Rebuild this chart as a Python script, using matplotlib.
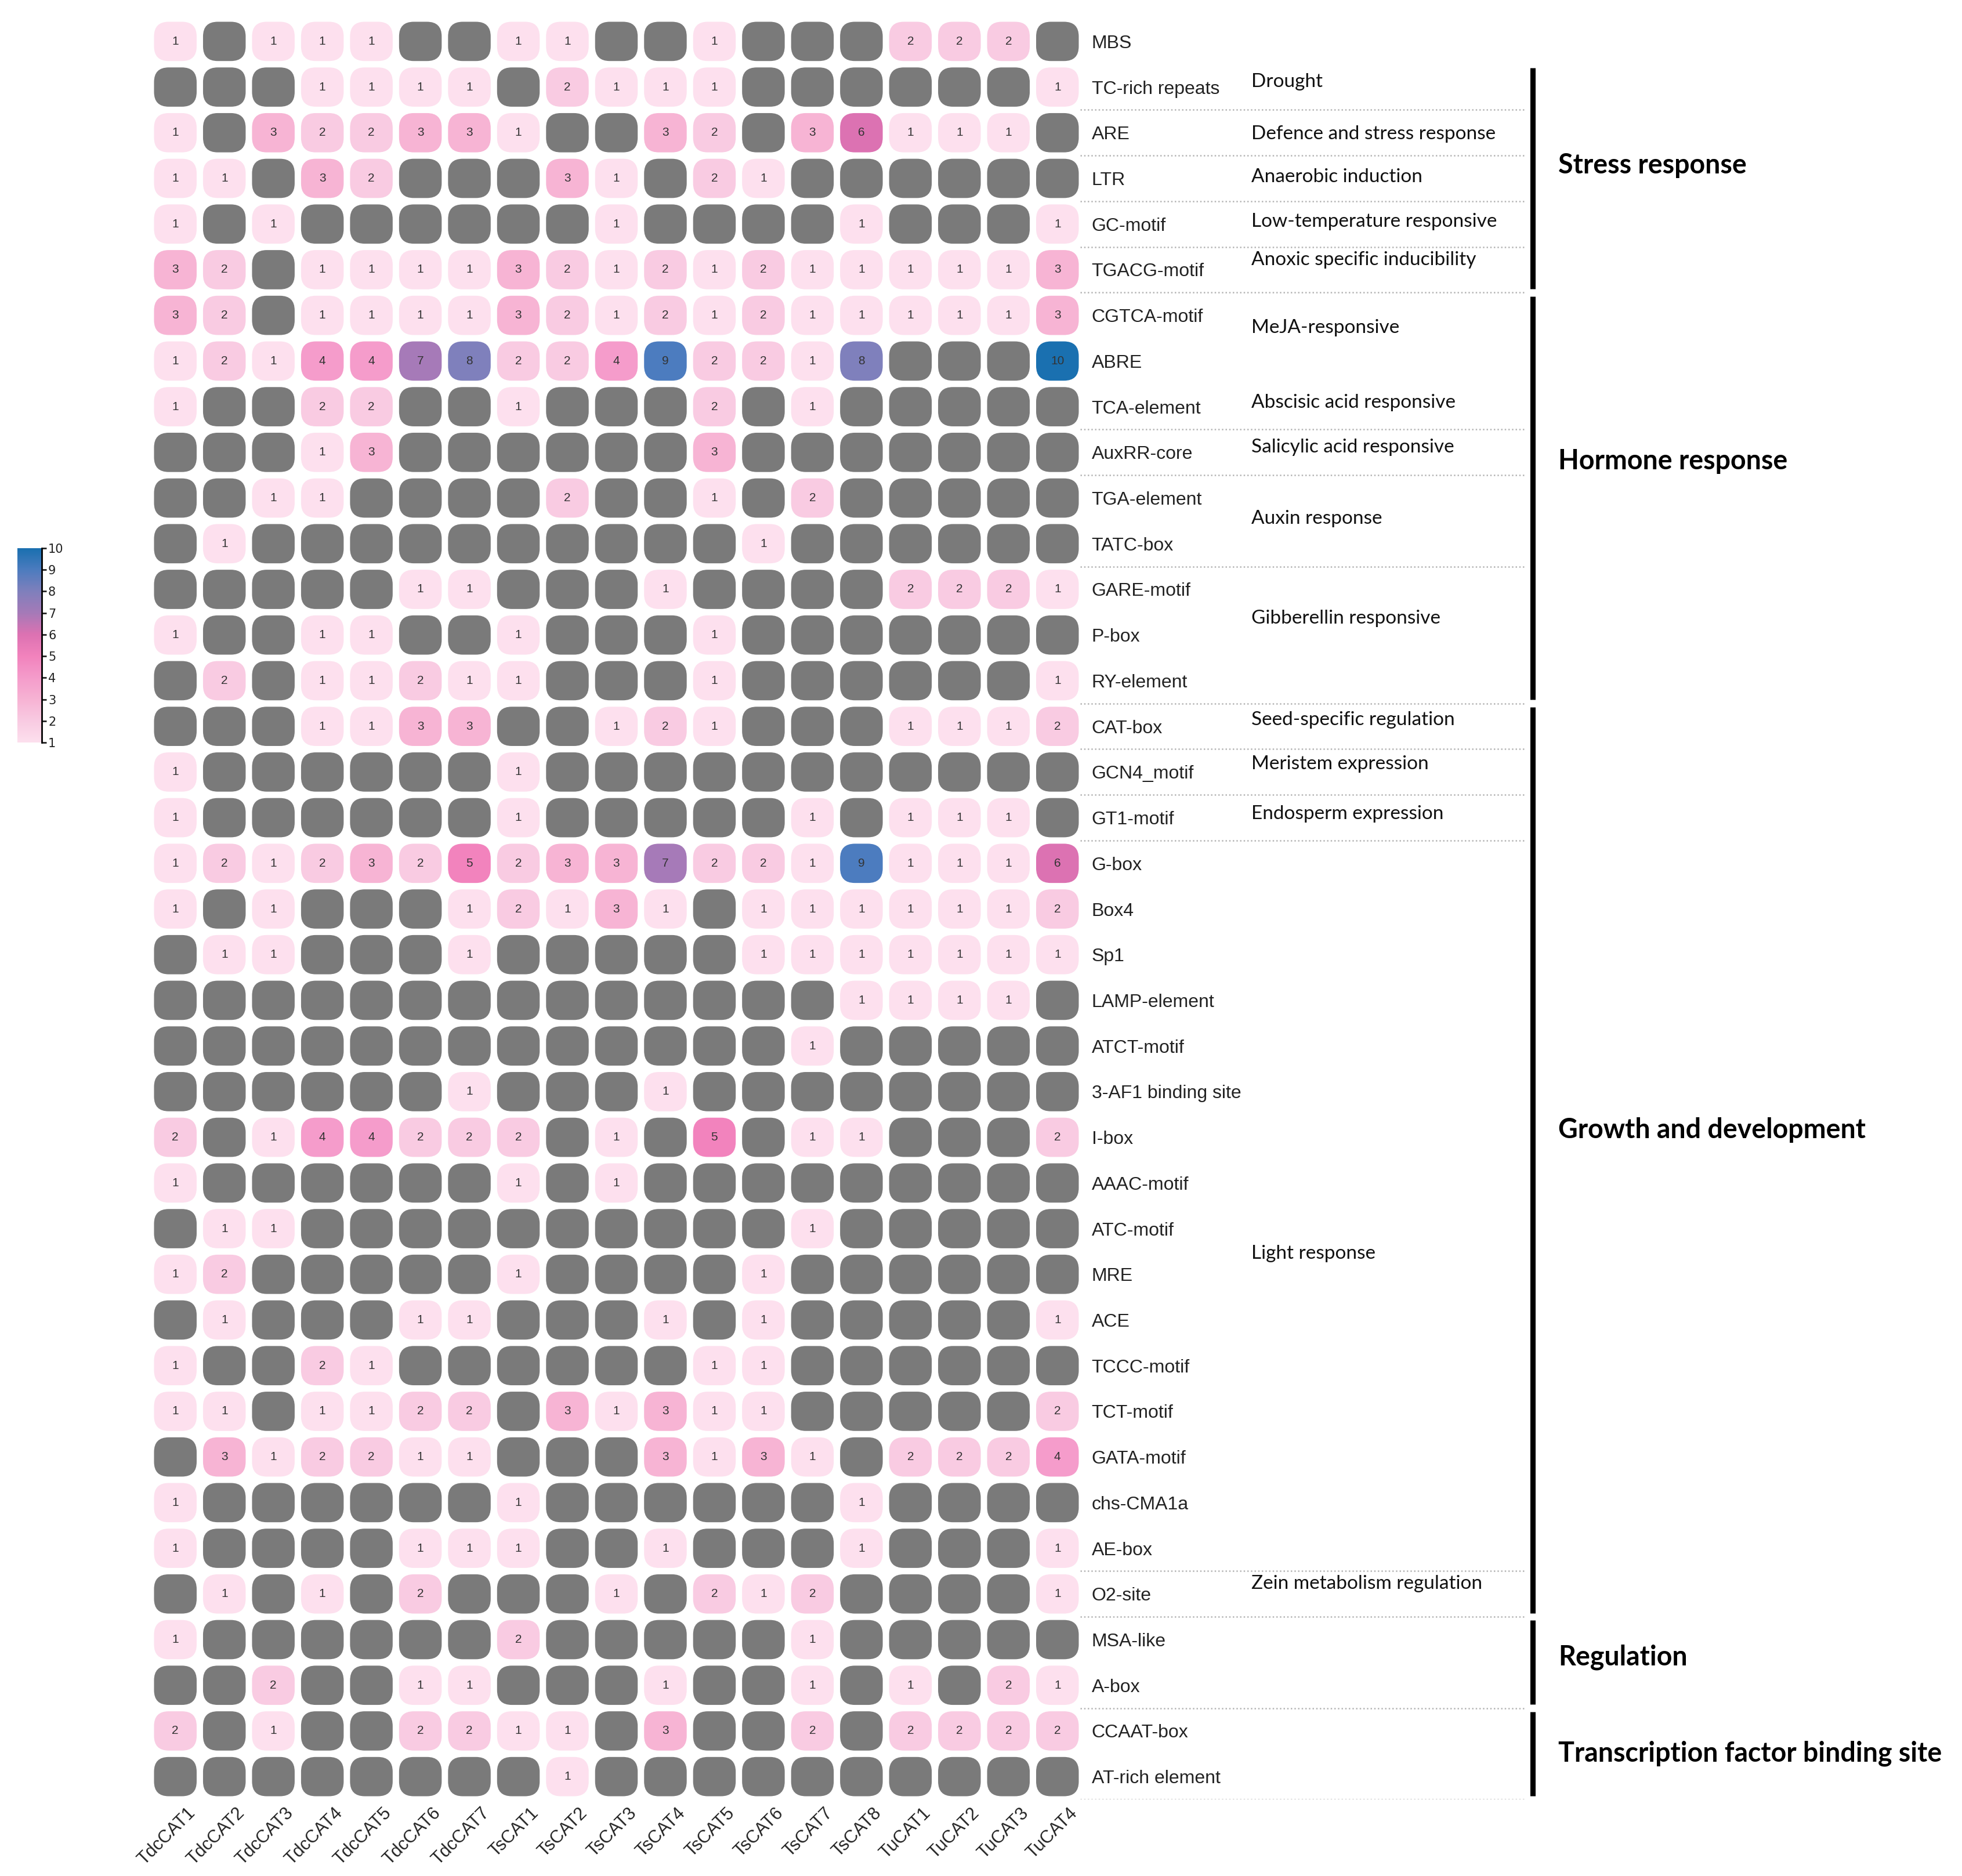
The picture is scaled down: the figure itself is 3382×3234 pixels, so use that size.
import numpy as np
import matplotlib.pyplot as plt
from matplotlib.patches import FancyBboxPatch
from matplotlib.colors import LinearSegmentedColormap, Normalize
from matplotlib.transforms import ScaledTranslation

# genes (columns) and cis-elements (rows)
genes = ['TdcCAT1', 'TdcCAT2', 'TdcCAT3', 'TdcCAT4', 'TdcCAT5', 'TdcCAT6', 'TdcCAT7',
         'TsCAT1', 'TsCAT2', 'TsCAT3', 'TsCAT4', 'TsCAT5', 'TsCAT6', 'TsCAT7', 'TsCAT8',
         'TuCAT1', 'TuCAT2', 'TuCAT3', 'TuCAT4']

elements = ['MBS', 'TC-rich repeats', 'ARE', 'LTR', 'GC-motif', 'TGACG-motif',
            'CGTCA-motif', 'ABRE', 'TCA-element', 'AuxRR-core', 'TGA-element', 'TATC-box',
            'GARE-motif', 'P-box', 'RY-element', 'CAT-box', 'GCN4_motif', 'GT1-motif',
            'G-box', 'Box4', 'Sp1', 'LAMP-element', 'ATCT-motif', '3-AF1 binding site',
            'I-box', 'AAAC-motif', 'ATC-motif', 'MRE', 'ACE', 'TCCC-motif', 'TCT-motif',
            'GATA-motif', 'chs-CMA1a', 'AE-box', 'O2-site', 'MSA-like', 'A-box',
            'CCAAT-box', 'AT-rich element']

# counts, 0 = element not present (grey)
counts = [
    [1, 0, 1, 1, 1, 0, 0, 1, 1, 0, 0, 1, 0, 0, 0, 2, 2, 2, 0],
    [0, 0, 0, 1, 1, 1, 1, 0, 2, 1, 1, 1, 0, 0, 0, 0, 0, 0, 1],
    [1, 0, 3, 2, 2, 3, 3, 1, 0, 0, 3, 2, 0, 3, 6, 1, 1, 1, 0],
    [1, 1, 0, 3, 2, 0, 0, 0, 3, 1, 0, 2, 1, 0, 0, 0, 0, 0, 0],
    [1, 0, 1, 0, 0, 0, 0, 0, 0, 1, 0, 0, 0, 0, 1, 0, 0, 0, 1],
    [3, 2, 0, 1, 1, 1, 1, 3, 2, 1, 2, 1, 2, 1, 1, 1, 1, 1, 3],
    [3, 2, 0, 1, 1, 1, 1, 3, 2, 1, 2, 1, 2, 1, 1, 1, 1, 1, 3],
    [1, 2, 1, 4, 4, 7, 8, 2, 2, 4, 9, 2, 2, 1, 8, 0, 0, 0, 10],
    [1, 0, 0, 2, 2, 0, 0, 1, 0, 0, 0, 2, 0, 1, 0, 0, 0, 0, 0],
    [0, 0, 0, 1, 3, 0, 0, 0, 0, 0, 0, 3, 0, 0, 0, 0, 0, 0, 0],
    [0, 0, 1, 1, 0, 0, 0, 0, 2, 0, 0, 1, 0, 2, 0, 0, 0, 0, 0],
    [0, 1, 0, 0, 0, 0, 0, 0, 0, 0, 0, 0, 1, 0, 0, 0, 0, 0, 0],
    [0, 0, 0, 0, 0, 1, 1, 0, 0, 0, 1, 0, 0, 0, 0, 2, 2, 2, 1],
    [1, 0, 0, 1, 1, 0, 0, 1, 0, 0, 0, 1, 0, 0, 0, 0, 0, 0, 0],
    [0, 2, 0, 1, 1, 2, 1, 1, 0, 0, 0, 1, 0, 0, 0, 0, 0, 0, 1],
    [0, 0, 0, 1, 1, 3, 3, 0, 0, 1, 2, 1, 0, 0, 0, 1, 1, 1, 2],
    [1, 0, 0, 0, 0, 0, 0, 1, 0, 0, 0, 0, 0, 0, 0, 0, 0, 0, 0],
    [1, 0, 0, 0, 0, 0, 0, 1, 0, 0, 0, 0, 0, 1, 0, 1, 1, 1, 0],
    [1, 2, 1, 2, 3, 2, 5, 2, 3, 3, 7, 2, 2, 1, 9, 1, 1, 1, 6],
    [1, 0, 1, 0, 0, 0, 1, 2, 1, 3, 1, 0, 1, 1, 1, 1, 1, 1, 2],
    [0, 1, 1, 0, 0, 0, 1, 0, 0, 0, 0, 0, 1, 1, 1, 1, 1, 1, 1],
    [0, 0, 0, 0, 0, 0, 0, 0, 0, 0, 0, 0, 0, 0, 1, 1, 1, 1, 0],
    [0, 0, 0, 0, 0, 0, 0, 0, 0, 0, 0, 0, 0, 1, 0, 0, 0, 0, 0],
    [0, 0, 0, 0, 0, 0, 1, 0, 0, 0, 1, 0, 0, 0, 0, 0, 0, 0, 0],
    [2, 0, 1, 4, 4, 2, 2, 2, 0, 1, 0, 5, 0, 1, 1, 0, 0, 0, 2],
    [1, 0, 0, 0, 0, 0, 0, 1, 0, 1, 0, 0, 0, 0, 0, 0, 0, 0, 0],
    [0, 1, 1, 0, 0, 0, 0, 0, 0, 0, 0, 0, 0, 1, 0, 0, 0, 0, 0],
    [1, 2, 0, 0, 0, 0, 0, 1, 0, 0, 0, 0, 1, 0, 0, 0, 0, 0, 0],
    [0, 1, 0, 0, 0, 1, 1, 0, 0, 0, 1, 0, 1, 0, 0, 0, 0, 0, 1],
    [1, 0, 0, 2, 1, 0, 0, 0, 0, 0, 0, 1, 1, 0, 0, 0, 0, 0, 0],
    [1, 1, 0, 1, 1, 2, 2, 0, 3, 1, 3, 1, 1, 0, 0, 0, 0, 0, 2],
    [0, 3, 1, 2, 2, 1, 1, 0, 0, 0, 3, 1, 3, 1, 0, 2, 2, 2, 4],
    [1, 0, 0, 0, 0, 0, 0, 1, 0, 0, 0, 0, 0, 0, 1, 0, 0, 0, 0],
    [1, 0, 0, 0, 0, 1, 1, 1, 0, 0, 1, 0, 0, 0, 1, 0, 0, 0, 1],
    [0, 1, 0, 1, 0, 2, 0, 0, 0, 1, 0, 2, 1, 2, 0, 0, 0, 0, 1],
    [1, 0, 0, 0, 0, 0, 0, 2, 0, 0, 0, 0, 0, 1, 0, 0, 0, 0, 0],
    [0, 0, 2, 0, 0, 1, 1, 0, 0, 0, 1, 0, 0, 1, 0, 1, 0, 2, 1],
    [2, 0, 1, 0, 0, 2, 2, 1, 1, 0, 3, 0, 0, 2, 0, 2, 2, 2, 2],
    [0, 0, 0, 0, 0, 0, 0, 0, 1, 0, 0, 0, 0, 0, 0, 0, 0, 0, 0],
]

# functional annotation: label, row where the label sits
functions = ['Drought', 'Defence and stress response', 'Anaerobic induction',
             'Low-temperature responsive', 'Anoxic specific inducibility', 'MeJA-responsive',
             'Abscisic acid responsive', 'Salicylic acid responsive', 'Auxin response',
             'Gibberellin responsive', 'Seed-specific regulation', 'Meristem expression',
             'Endosperm expression', 'Light response', 'Zein metabolism regulation']
function_rows = [0.89, 2.03, 2.97, 3.94, 4.78, 6.27, 7.91, 8.89, 10.45, 12.63,
                 14.86, 15.83, 16.92, 26.55, 33.77]
separators = [1.5, 2.5, 3.5, 4.5, 5.5, 8.5, 9.5, 11.5, 14.5, 15.5, 16.5, 17.5,
              33.5, 34.5, 36.5, 38.5]

# categories: label, first row, last row, label row
categories = ['Stress response', 'Hormone response', 'Growth and development',
              'Regulation', 'Transcription factor binding site']
cat_first = [1, 6, 15, 35, 37]
cat_last = [5, 14, 34, 36, 38]
cat_label_rows = [2.71, 9.19, 23.84, 35.38, 37.49]

W, H = 3382, 3234
fig = plt.figure(figsize=(W / 100, H / 100), dpi=100)


def px_axes(x0, y0, x1, y1):
    return fig.add_axes([x0 / W, 1 - y1 / H, (x1 - x0) / W, (y1 - y0) / H])


cmap = LinearSegmentedColormap.from_list('pinkblue', [
    (0.0, '#fde0ee'), (1 / 9, '#f9cbe2'), (2 / 9, '#f7b3d4'), (3 / 9, '#f59ccb'),
    (4 / 9, '#f283bd'), (5 / 9, '#dd72b2'), (6 / 9, '#a67ab8'), (7 / 9, '#8080bc'),
    (8 / 9, '#4d7cbf'), (1.0, '#1a70b0')])
norm = Normalize(1, 10)
na_color = '#7a7a7a'

# main grid
x0, y0, x1, y1 = 260, 32, 1865, 3102
ax = px_axes(x0, y0, x1, y1)
nr, nc = len(elements), len(genes)
ax.set_xlim(-0.5, nc - 0.5)
ax.set_ylim(nr - 0.5, -0.5)
ux = (x1 - x0) / nc
uy = (y1 - y0) / nr
cw, ch = 0.87, 0.86

for i in range(nr):
    for j in range(nc):
        v = counts[i][j]
        fc = cmap(norm(v)) if v > 0 else na_color
        box = FancyBboxPatch((j - cw / 2, i - ch / 2), cw, ch,
                             boxstyle='round,pad=0,rounding_size=0.3',
                             mutation_aspect=ux / uy, fc=fc, ec='none')
        ax.add_patch(box)
        if v > 0:
            ax.text(j, i, str(v), ha='center', va='center', fontsize=15,
                    color='#333333', family=['Liberation Sans', 'DejaVu Sans'])

for s in ax.spines.values():
    s.set_visible(False)
ax.yaxis.tick_right()
ax.set_yticks(range(nr))
ax.set_yticklabels(elements, fontsize=23, color='#222222',
                   family=['Liberation Sans', 'DejaVu Sans'])
ax.set_xticks(range(nc))
ax.set_xticklabels(genes, fontsize=22, color='#222222', rotation=45, ha='right',
                   va='center', rotation_mode='anchor',
                   family=['Liberation Sans', 'DejaVu Sans'])
ax.tick_params(axis='both', length=0)
ax.tick_params(axis='y', pad=12)
ax.tick_params(axis='x', pad=14)
shift = ScaledTranslation(0.3, 0, fig.dpi_scale_trans)
for lab in ax.get_xticklabels():
    lab.set_transform(lab.get_transform() + shift)

# colour scale on the left
cax = px_axes(30, 945, 72, 1280)
grad = np.linspace(1, 10, 256).reshape(-1, 1)
cax.imshow(grad, cmap=cmap, norm=norm, aspect='auto', origin='lower', extent=[0, 1, 1, 10])
cax.set_xlim(0, 1)
cax.set_ylim(1, 10)
for side in ['left', 'top', 'bottom']:
    cax.spines[side].set_visible(False)
cax.spines['right'].set_linewidth(2)
cax.set_xticks([])
cax.yaxis.tick_right()
cax.set_yticks(range(1, 11))
cax.tick_params(axis='y', length=6, width=2, pad=2, labelsize=15, colors='#222222')

# annotation panel on the right
ann = px_axes(1850, y0, W, y1)
ann.set_xlim(0, W - 1850)
ann.set_ylim(nr - 0.5, -0.5)
ann.axis('off')
ann.hlines(separators, 12, 777, colors='#b5b5b5', linestyles=(0, (1, 1.5)), lw=1.8)

for lab, r in zip(functions, function_rows):
    ann.text(307, r, lab, ha='left', va='center', fontsize=24, color='#111111',
             family=['Lato', 'DejaVu Sans'])

for lab, a, b, r in zip(categories, cat_first, cat_last, cat_label_rows):
    ann.plot([792, 792], [a - 0.5 + 0.08, b + 0.5 - 0.08], color='black', lw=6.5,
             solid_capstyle='butt')
    ann.text(836, r, lab, ha='left', va='center', fontsize=33.5, fontweight='bold',
             color='black', family=['Lato', 'DejaVu Sans'])

fig.savefig('out.png', dpi=100, facecolor='white')
